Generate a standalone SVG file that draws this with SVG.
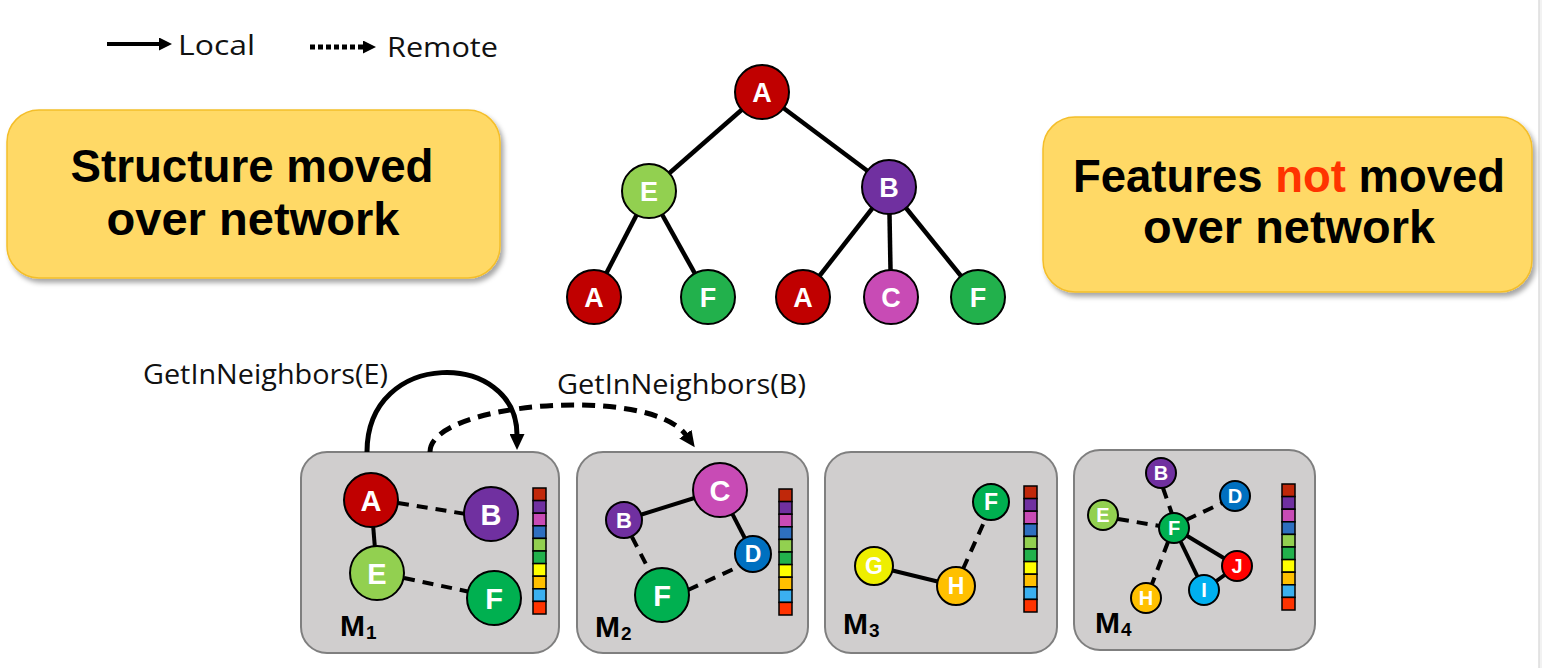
<svg xmlns="http://www.w3.org/2000/svg" xmlns:xlink="http://www.w3.org/1999/xlink" width="1542" height="668" viewBox="0 0 1542 668">
<style>
.lbl{font-family:"Open Sans","Liberation Sans",sans-serif;font-size:28px;fill:#111}
.big{font-family:"Liberation Sans",Arial,sans-serif;font-weight:bold;font-size:46px;fill:#000;text-anchor:middle}
.nl{font-family:"Liberation Sans",Arial,sans-serif;font-weight:bold;fill:#fff;text-anchor:middle}
.e{stroke:#000;stroke-width:4.5;fill:none}
.a{stroke:#000;stroke-width:5;fill:none}
.s{stroke:#000;stroke-width:4;fill:none}
.d{stroke:#000;stroke-width:4;fill:none;stroke-dasharray:11 8}
.nc{stroke:#000;stroke-width:2}
.mbox{fill:#D0CECE;stroke:#7F7F7F;stroke-width:2}
.ybox{fill:#FFD966;stroke:#F4BE2A;stroke-width:1.5}
.ml{font-family:"Liberation Sans",Arial,sans-serif;font-weight:bold;font-size:30px;fill:#000}
.cell{stroke:#000;stroke-width:1.5}
</style>
<defs>
<marker id="ah" markerUnits="userSpaceOnUse" markerWidth="17" markerHeight="15" refX="1" refY="7.5" orient="auto">
<path d="M0,0 L16,7.5 L0,15 z" fill="#000"/>
</marker>
<marker id="ahs" markerUnits="userSpaceOnUse" markerWidth="14" markerHeight="13" refX="1" refY="6.5" orient="auto">
<path d="M0,0 L13,6.5 L0,13 z" fill="#000"/>
</marker>
<filter id="sh" x="-10%" y="-10%" width="125%" height="130%">
<feDropShadow dx="3" dy="4" stdDeviation="2.5" flood-color="#000" flood-opacity="0.35"/>
</filter>
<g id="bar">
<rect class="cell" x="0" y="0" width="13" height="12.6" fill="#C0280A"/>
<rect class="cell" x="0" y="12.6" width="13" height="12.6" fill="#7030A0"/>
<rect class="cell" x="0" y="25.2" width="13" height="12.6" fill="#C84BB5"/>
<rect class="cell" x="0" y="37.8" width="13" height="12.6" fill="#2E6FC0"/>
<rect class="cell" x="0" y="50.4" width="13" height="12.6" fill="#92D050"/>
<rect class="cell" x="0" y="63" width="13" height="12.6" fill="#22B14C"/>
<rect class="cell" x="0" y="75.6" width="13" height="12.6" fill="#FFFF00"/>
<rect class="cell" x="0" y="88.2" width="13" height="12.6" fill="#FFC000"/>
<rect class="cell" x="0" y="100.8" width="13" height="12.6" fill="#3BB0F0"/>
<rect class="cell" x="0" y="113.4" width="13" height="12.6" fill="#FF3300"/>
</g>
</defs>
<rect x="0" y="0" width="1542" height="668" fill="#fff"/>
<rect x="1539" y="0" width="3" height="668" fill="#F2F2F2"/>
<line x1="1539" y1="0" x2="1539" y2="668" stroke="#DCDCDC" stroke-width="1.5"/>

<!-- legend -->
<g id="legend">
<line x1="107" y1="44" x2="160" y2="44" stroke="#000" stroke-width="4" marker-end="url(#ahs)"/>
<text class="lbl" x="178" y="55" textLength="77" lengthAdjust="spacingAndGlyphs">Local</text>
<line x1="310" y1="47" x2="364" y2="47" stroke="#000" stroke-width="5" stroke-dasharray="5 3" marker-end="url(#ahs)"/>
<text class="lbl" x="387" y="57" textLength="111" lengthAdjust="spacingAndGlyphs">Remote</text>
</g>

<!-- yellow boxes -->
<g id="box-structure">
<rect class="ybox" x="7" y="110" width="493" height="168" rx="32" filter="url(#sh)"/>
<text class="big" x="252" y="182" textLength="363" lengthAdjust="spacingAndGlyphs">Structure moved</text>
<text class="big" x="253" y="235" textLength="293" lengthAdjust="spacingAndGlyphs">over network</text>
</g>
<g id="box-features">
<rect class="ybox" x="1043" y="117" width="489" height="175" rx="32" filter="url(#sh)"/>
<text class="big" x="1289" y="192" textLength="432" lengthAdjust="spacingAndGlyphs">Features <tspan fill="#FF3300">not</tspan> moved</text>
<text class="big" x="1289" y="243" textLength="292" lengthAdjust="spacingAndGlyphs">over network</text>
</g>

<!-- machine boxes -->
<g id="M1">
<rect class="mbox" x="301" y="452" width="258" height="201" rx="26"/>
<use xlink:href="#bar" x="533" y="488"/>
<text class="ml" x="340" y="636">M<tspan font-size="19" dx="1" dy="3">1</tspan></text>
</g>
<g id="M2">
<rect class="mbox" x="577" y="452" width="231" height="201" rx="26"/>
<use xlink:href="#bar" x="779" y="489"/>
<text class="ml" x="595" y="637">M<tspan font-size="19" dx="1" dy="3">2</tspan></text>
</g>
<g id="M3">
<rect class="mbox" x="825" y="452" width="232" height="201" rx="26"/>
<use xlink:href="#bar" x="1024" y="486"/>
<text class="ml" x="843" y="634">M<tspan font-size="19" dx="1" dy="3">3</tspan></text>
</g>
<g id="M4">
<rect class="mbox" x="1074" y="450" width="241" height="200" rx="26"/>
<use xlink:href="#bar" x="1282" y="484"/>
<text class="ml" x="1095" y="633">M<tspan font-size="19" dx="1" dy="3">4</tspan></text>
</g>

<!-- connectors -->
<g id="connectors">
<!-- tree -->
<line class="e" x1="762" y1="92" x2="649" y2="191"/>
<line class="e" x1="762" y1="92" x2="889" y2="187"/>
<line class="e" x1="649" y1="191" x2="594" y2="297"/>
<line class="e" x1="649" y1="191" x2="708" y2="297"/>
<line class="e" x1="889" y1="187" x2="803" y2="297"/>
<line class="e" x1="889" y1="187" x2="891" y2="297"/>
<line class="e" x1="889" y1="187" x2="978" y2="297"/>
<!-- M1 -->
<line class="s" x1="371" y1="500" x2="377" y2="573"/>
<line class="d" x1="398" y1="503" x2="466" y2="514"/>
<line class="d" x1="404" y1="578" x2="470" y2="592"/>
<!-- M2 -->
<line class="s" x1="624" y1="520" x2="720" y2="490"/>
<line class="s" x1="720" y1="490" x2="753" y2="554"/>
<line class="d" x1="632" y1="537" x2="650" y2="572"/>
<line class="d" x1="688" y1="590" x2="740" y2="566"/>
<!-- M3 -->
<line class="s" x1="874" y1="566" x2="956" y2="586"/>
<line class="d" x1="963" y1="569" x2="985" y2="520"/>
<!-- M4 -->
<line class="d" x1="1163" y1="488" x2="1172" y2="514"/>
<line class="d" x1="1118" y1="519" x2="1160" y2="526"/>
<line class="d" x1="1186" y1="520" x2="1222" y2="503"/>
<line class="d" x1="1168" y1="542" x2="1152" y2="584"/>
<line class="s" x1="1174" y1="528" x2="1237" y2="566"/>
<line class="s" x1="1174" y1="528" x2="1204" y2="590"/>
<line class="s" x1="1204" y1="590" x2="1237" y2="566"/>
<!-- calls -->
<path class="a" d="M367,452 C367,348 517,350 517,435" marker-end="url(#ah)"/>
<path class="a" d="M430,452 C430,402 650,385 686,435" stroke-dasharray="13 8" marker-end="url(#ah)"/>
</g>

<g id="call-labels">
<text class="lbl" x="143" y="384" font-size="27" textLength="245" lengthAdjust="spacingAndGlyphs">GetInNeighbors(E)</text>
<text class="lbl" x="557" y="394" font-size="27" textLength="249" lengthAdjust="spacingAndGlyphs">GetInNeighbors(B)</text>
</g>

<!-- tree nodes -->
<g id="t-A0"><circle class="nc" cx="762" cy="92" r="27" fill="#C00000"/><text class="nl" x="762" y="102" font-size="27">A</text></g>
<g id="t-E"><circle class="nc" cx="649" cy="191" r="27" fill="#92D050"/><text class="nl" x="649" y="201" font-size="27">E</text></g>
<g id="t-B"><circle class="nc" cx="889" cy="187" r="27" fill="#7030A0"/><text class="nl" x="889" y="197" font-size="27">B</text></g>
<g id="t-A1"><circle class="nc" cx="594" cy="297" r="27" fill="#C00000"/><text class="nl" x="594" y="307" font-size="27">A</text></g>
<g id="t-F1"><circle class="nc" cx="708" cy="297" r="27" fill="#22B14C"/><text class="nl" x="708" y="307" font-size="27">F</text></g>
<g id="t-A2"><circle class="nc" cx="803" cy="297" r="27" fill="#C00000"/><text class="nl" x="803" y="307" font-size="27">A</text></g>
<g id="t-C"><circle class="nc" cx="891" cy="297" r="27" fill="#C84BB5"/><text class="nl" x="891" y="307" font-size="27">C</text></g>
<g id="t-F2"><circle class="nc" cx="978" cy="297" r="27" fill="#22B14C"/><text class="nl" x="978" y="307" font-size="27">F</text></g>

<!-- M1 nodes -->
<g id="m1-A"><circle class="nc" cx="371" cy="500" r="27" fill="#C00000"/><text class="nl" x="371" y="511" font-size="29">A</text></g>
<g id="m1-B"><circle class="nc" cx="491" cy="514" r="27" fill="#7030A0"/><text class="nl" x="491" y="525" font-size="29">B</text></g>
<g id="m1-E"><circle class="nc" cx="377" cy="573" r="27" fill="#92D050"/><text class="nl" x="377" y="584" font-size="29">E</text></g>
<g id="m1-F"><circle class="nc" cx="494" cy="598" r="27" fill="#00B050"/><text class="nl" x="494" y="609" font-size="29">F</text></g>

<!-- M2 nodes -->
<g id="m2-C"><circle class="nc" cx="720" cy="490" r="27" fill="#C84BB5"/><text class="nl" x="720" y="501" font-size="29">C</text></g>
<g id="m2-B"><circle class="nc" cx="624" cy="520" r="18" fill="#7030A0"/><text class="nl" x="624" y="528" font-size="22">B</text></g>
<g id="m2-D"><circle class="nc" cx="753" cy="554" r="18" fill="#0070C0"/><text class="nl" x="753" y="562" font-size="23">D</text></g>
<g id="m2-F"><circle class="nc" cx="662" cy="595" r="27" fill="#00B050"/><text class="nl" x="662" y="606" font-size="29">F</text></g>

<!-- M3 nodes -->
<g id="m3-F"><circle class="nc" cx="991" cy="502" r="18" fill="#00B050"/><text class="nl" x="991" y="510" font-size="23">F</text></g>
<g id="m3-G"><circle class="nc" cx="874" cy="566" r="19" fill="#EEEE00"/><text class="nl" x="874" y="574" font-size="23">G</text></g>
<g id="m3-H"><circle class="nc" cx="956" cy="586" r="19" fill="#FFC000"/><text class="nl" x="956" y="594" font-size="23">H</text></g>

<!-- M4 nodes -->
<g id="m4-B"><circle class="nc" cx="1161" cy="473" r="15" fill="#7030A0"/><text class="nl" x="1161" y="480" font-size="20">B</text></g>
<g id="m4-D"><circle class="nc" cx="1235" cy="496" r="15" fill="#0070C0"/><text class="nl" x="1235" y="503" font-size="20">D</text></g>
<g id="m4-E"><circle class="nc" cx="1103" cy="515" r="15" fill="#92D050"/><text class="nl" x="1103" y="522" font-size="20">E</text></g>
<g id="m4-F"><circle class="nc" cx="1174" cy="528" r="15" fill="#00B050"/><text class="nl" x="1174" y="535" font-size="20">F</text></g>
<g id="m4-J"><circle class="nc" cx="1237" cy="566" r="15" fill="#FF0000"/><text class="nl" x="1237" y="573" font-size="20">J</text></g>
<g id="m4-I"><circle class="nc" cx="1204" cy="590" r="15" fill="#00B0F0"/><text class="nl" x="1204" y="597" font-size="20">I</text></g>
<g id="m4-H"><circle class="nc" cx="1146" cy="598" r="15" fill="#FFC000"/><text class="nl" x="1146" y="605" font-size="20">H</text></g>
</svg>
